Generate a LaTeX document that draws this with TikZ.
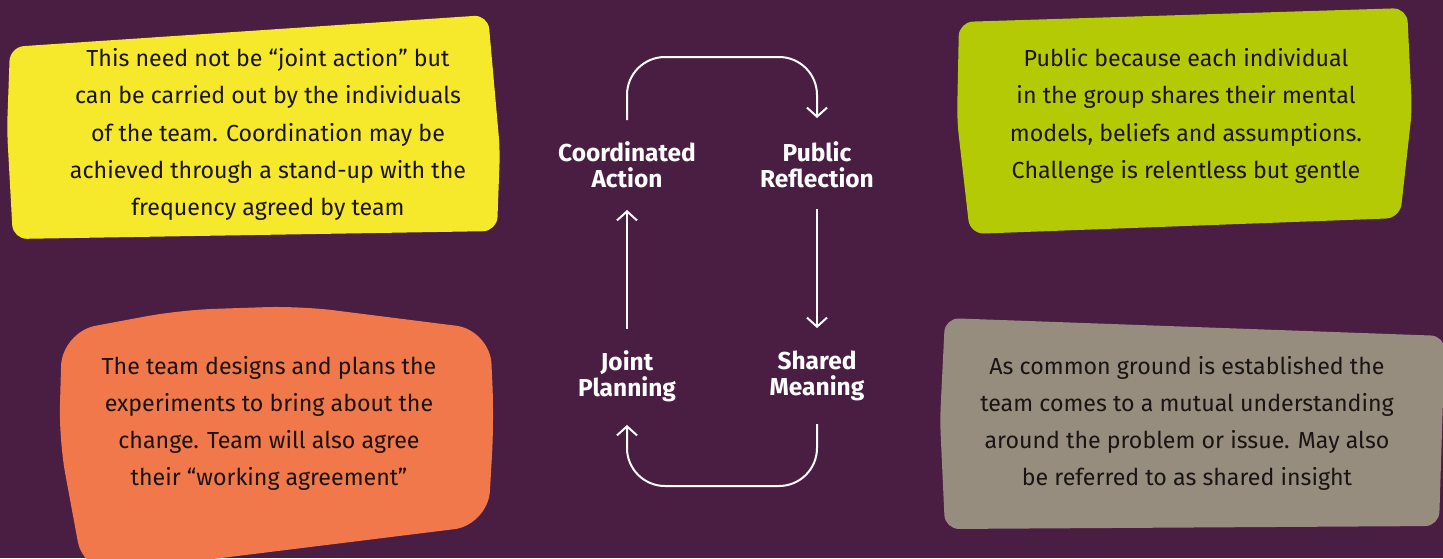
\documentclass[tikz,border=0pt]{standalone}
\usepackage{fontspec}
\setmainfont{Fira Sans}
\usetikzlibrary{arrows.meta}
\definecolor{bg}{HTML}{4A1D42}
\definecolor{cyel}{HTML}{F6E82A}
\definecolor{cgrn}{HTML}{B3CA05}
\definecolor{corg}{HTML}{F0784A}
\definecolor{cgry}{HTML}{968D7E}
\definecolor{ink}{HTML}{1A1414}
\tikzset{
  blobtext/.style={align=center, text=ink, font=\fontsize{23.2}{37.2}\selectfont, inner sep=0pt},
  stagelabel/.style={align=center, text=white, font=\fontsize{24.5}{26}\selectfont\bfseries, inner sep=0pt},
  flow/.style={draw=white, line width=2pt, -{Straight Barb[length=9pt,width=20pt,line width=2pt]}},
}
\begin{document}
\begin{tikzpicture}[x=1pt,y=-1pt]
\useasboundingbox (0,0) rectangle (1443,558);
\fill[bg] (0,0) rectangle (1443,558);
\begin{scope}
\clip (0,0) rectangle (1443,558);
% yellow
\fill[cyel, rounded corners=14pt] (10,47) -- (488,15) -- (500,150) -- (497,231) -- (13,239) -- (7,130) -- cycle;
% green
\fill[cgrn, rounded corners=14pt] (959,22) -- (1407,8) -- (1412,110) -- (1400,218) -- (970,234) -- (957,120) -- cycle;
% orange
\fill[corg, rounded corners=34pt] (62,332) -- (180,310) -- (300,306) -- (490,330) -- (494,420) -- (488,525) -- (84,575) -- (59,440) -- cycle;
% gray
\fill[cgry, rounded corners=14pt] (945,318) -- (1445,336) -- (1439,526) -- (945,529) -- (940,420) -- cycle;
\end{scope}
\node[blobtext] (ty) at (268,134.5) {This need not be “joint action” but\\can be carried out by the individuals\\of the team. Coordination may be\\achieved through a stand-up with the\\frequency agreed by team};
\node[blobtext] (tg) at (1186,116) {Public because each individual\\in the group shares their mental\\models, beliefs and assumptions.\\Challenge is relentless but gentle};
\node[blobtext] (to) at (269,423.5) {The team designs and plans the\\experiments to bring about the\\change. Team will also agree\\their “working agreement”};
\node[blobtext] (tgr) at (1187,423.5) {As common ground is established the\\team comes to a mutual understanding\\around the problem or issue. May also\\be referred to as shared insight};
% stages
\node[stagelabel] (ca) at (627,165) {Coordinated\\Action};
\node[stagelabel] (pr) at (817,165) {Public\\Reflection};
\node[stagelabel] (jp) at (627,376) {Joint\\Planning};
\node[stagelabel] (sm) at (817,376) {Shared\\Meaning};
\coordinate (caT) at (627,120);
\coordinate (prT) at (817,118);
\coordinate (prB) at (817,209);
\coordinate (smT) at (817,328);
\coordinate (jpB) at (627,329);
\coordinate (caB) at (627,210);
\coordinate (smB) at (817,424);
\coordinate (jpT) at (627,425);
\draw[flow, rounded corners=38pt] (caT) -- (627,57) -- (817,57) -- (prT);
\draw[flow] (prB) -- (smT);
\draw[flow] (jpB) -- (caB);
\draw[flow, rounded corners=38pt] (smB) -- (817,486) -- (627,486) -- (jpT);
\end{tikzpicture}
\end{document}
